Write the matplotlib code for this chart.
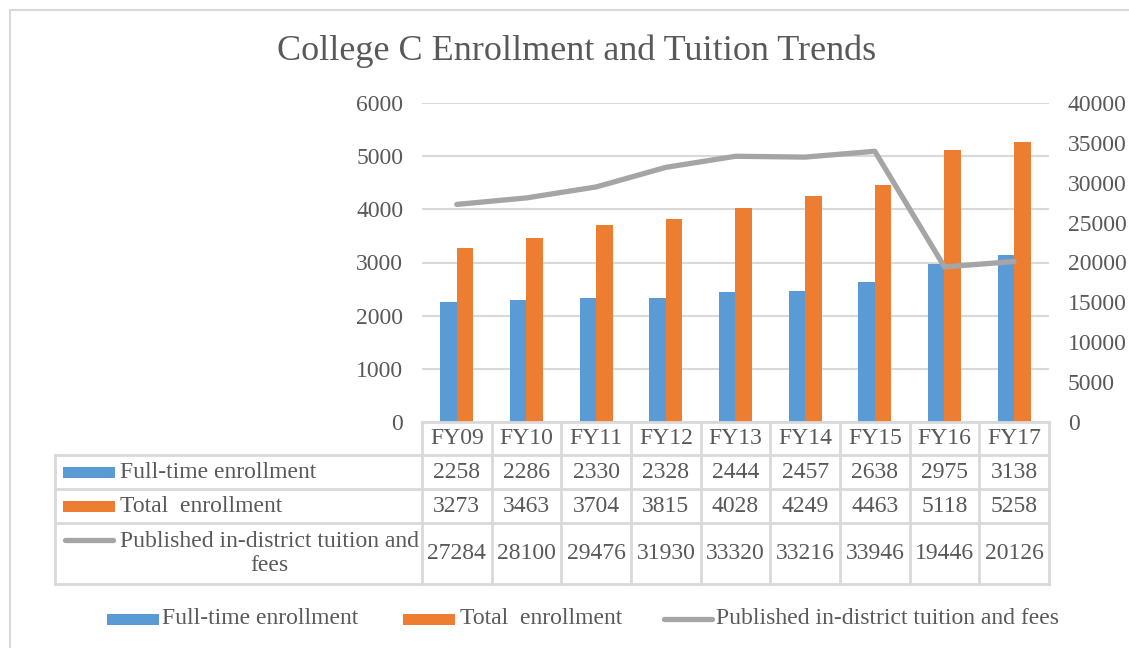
import numpy as np
import matplotlib.pyplot as plt
from matplotlib.patches import Rectangle

plt.rcParams["font.family"] = ["Liberation Serif", "DejaVu Serif"]

# datos del gráfico
years = ["FY09", "FY10", "FY11", "FY12", "FY13", "FY14", "FY15", "FY16", "FY17"]
full_time = [2258, 2286, 2330, 2328, 2444, 2457, 2638, 2975, 3138]
total = [3273, 3463, 3704, 3815, 4028, 4249, 4463, 5118, 5258]
tuition = [27284, 28100, 29476, 31930, 33320, 33216, 33946, 19446, 20126]

names = ["Full-time enrollment", "Total  enrollment",
         "Published in-district tuition and fees"]
table_names = ["Full-time enrollment", "Total  enrollment",
               "Published in-district tuition and\nfees"]

BLUE = "#5B9BD5"
ORANGE = "#ED7D31"
GRAY = "#A5A5A5"
TEXT = "#595959"
GRID = "#D9D9D9"
FS = 17

W, H = 1129, 648
fig = plt.figure(figsize=(W / 100, H / 100), dpi=100)

# zona de trazado (en píxeles)
left, right, top, bottom = 422, 1049, 103, 422
ax = fig.add_axes([left / W, 1 - bottom / H, (right - left) / W, (bottom - top) / H])
x = np.arange(len(years))
bw = 0.237
ax.bar(x - bw / 2, full_time, bw, color=BLUE, zorder=3)
ax.bar(x + bw / 2, total, bw, color=ORANGE, zorder=3)
ax.set_xlim(-0.5, len(years) - 0.5)
ax.set_ylim(0, 6000)
ax.set_yticks(range(0, 6001, 1000))
ax.yaxis.grid(True, color=GRID, lw=1.5)
ax.set_axisbelow(True)
ax.set_xticks([])
for s in ax.spines.values():
    s.set_visible(False)
ax.tick_params(axis="y", length=0, labelsize=FS, labelcolor=TEXT, pad=13.5)

ax2 = ax.twinx()
ax2.plot(x, tuition, color=GRAY, lw=3.8, solid_capstyle="round",
         solid_joinstyle="round", zorder=4)
ax2.set_ylim(0, 40000)
ax2.set_yticks(range(0, 40001, 5000))
for s in ax2.spines.values():
    s.set_visible(False)
ax2.tick_params(axis="y", length=0, labelsize=FS, labelcolor=TEXT, pad=13.5)

# capa auxiliar en píxeles para tabla, leyenda y marco
ov = fig.add_axes([0, 0, 1, 1])
ov.set_xlim(0, W)
ov.set_ylim(H, 0)
ov.axis("off")

ov.plot([10, W], [10, 10], color=GRID, lw=1.5)
ov.plot([10, 10], [10, H], color=GRID, lw=1.5)

fig.text(577 / W, 1 - 51 / H, "College C Enrollment and Tuition Trends",
         ha="center", va="center", fontsize=26, color=TEXT)

# tabla de datos
colw = (right - left) / len(years)
rows = [bottom, 455, 489, 523, 584]
lab_left = 55
ov.plot([left, right], [rows[0], rows[0]], color=GRID, lw=2)
for yy in rows[1:]:
    ov.plot([lab_left, right], [yy, yy], color=GRID, lw=2)
ov.plot([lab_left, lab_left], [rows[1], rows[-1]], color=GRID, lw=2)
for i in range(len(years) + 1):
    xx = left + i * colw
    ov.plot([xx, xx], [rows[0], rows[-1]], color=GRID, lw=2)

for i, yr in enumerate(years):
    cx = left + (i + 0.5) * colw
    ov.text(cx, (rows[0] + rows[1]) / 2, yr, ha="center", va="center",
            fontsize=FS, color=TEXT)
    for r, serie in enumerate([full_time, total, tuition]):
        ov.text(cx, (rows[r + 1] + rows[r + 2]) / 2, str(serie[i]),
                ha="center", va="center", fontsize=FS, color=TEXT)


def clave(x0, y0, k):
    if k < 2:
        ov.add_patch(Rectangle((x0, y0 - 5.5), 52, 11,
                               color=[BLUE, ORANGE][k], lw=0))
    else:
        ov.plot([x0 + 2, x0 + 50], [y0, y0], color=GRAY, lw=3.8,
                solid_capstyle="round")


for r in range(3):
    yc = (rows[r + 1] + rows[r + 2]) / 2
    ky = yc if r < 2 else 540
    clave(63, ky, r)
    ov.text(120, yc, table_names[r], ha="left", va="center",
            multialignment="center", fontsize=FS, color=TEXT,
            linespacing=1.2)

# leyenda inferior
for k, (kx, tx) in enumerate([(107, 162), (403, 460), (662, 716)]):
    clave(kx, 619, k)
    ov.text(tx, 619, names[k], ha="left", va="center", fontsize=FS, color=TEXT)

fig.savefig("out.png", dpi=100, facecolor="white")
